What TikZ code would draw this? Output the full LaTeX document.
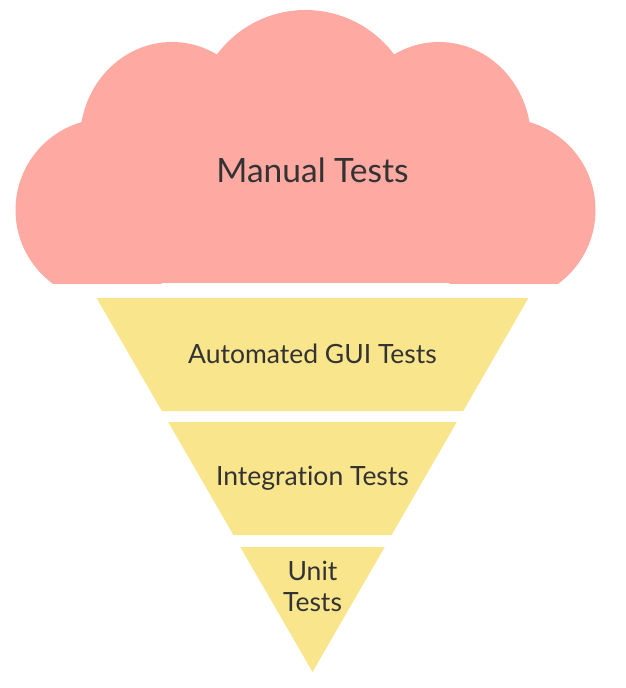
\documentclass[tikz,border=0pt]{standalone}
\usepackage{fontspec}
\setmainfont{Lato}[Ligatures=NoCommon]
\definecolor{cloudpink}{HTML}{FEA9A2}
\definecolor{coneyellow}{HTML}{F8E58C}
\definecolor{txtgray}{HTML}{333333}
\begin{document}
\begin{tikzpicture}[x=1pt,y=-1pt,
  lbl/.style={text=txtgray, font=\fontsize{26.5}{31}\selectfont, align=center, inner sep=0pt},
  cloudfill/.style={fill=cloudpink, draw=none},
  conefill/.style={fill=coneyellow, draw=none}]
\useasboundingbox (0,0) rectangle (625,688);
% cloud
\begin{scope}
  \clip (0,0) rectangle (625,283);
  \fill[cloudfill] (107,210) circle[radius=91.5];
  \fill[cloudfill] (504,210) circle[radius=91.5];
  \fill[cloudfill] (172,140) ellipse[x radius=92, y radius=98];
  \fill[cloudfill] (439,140) ellipse[x radius=92, y radius=98];
  \fill[cloudfill] (305.5,120.5) circle[radius=110.5];
  \fill[cloudfill] (107,140) rectangle (504,283);
\end{scope}
% cone
\fill[conefill] (96.6,298) -- (528.4,298) -- (463.2,411) -- (161.8,411) -- cycle;
\fill[conefill] (168.2,422) -- (456.8,422) -- (391.6,535) -- (233.4,535) -- cycle;
\fill[conefill] (240.3,547) -- (384.7,547) -- (312.5,672) -- cycle;
% labels
\node[lbl, font=\fontsize{33.5}{40}\selectfont, anchor=base] (manual) at (312.5,182) {Manual Tests};
\node[lbl, anchor=base] (gui) at (312.5,363) {Automated GUI Tests};
\node[lbl, anchor=base] (integration) at (312.5,485) {Integration Tests};
\node[lbl, anchor=base] (unit) at (312.5,611) {Unit\\Tests};
\end{tikzpicture}
\end{document}
